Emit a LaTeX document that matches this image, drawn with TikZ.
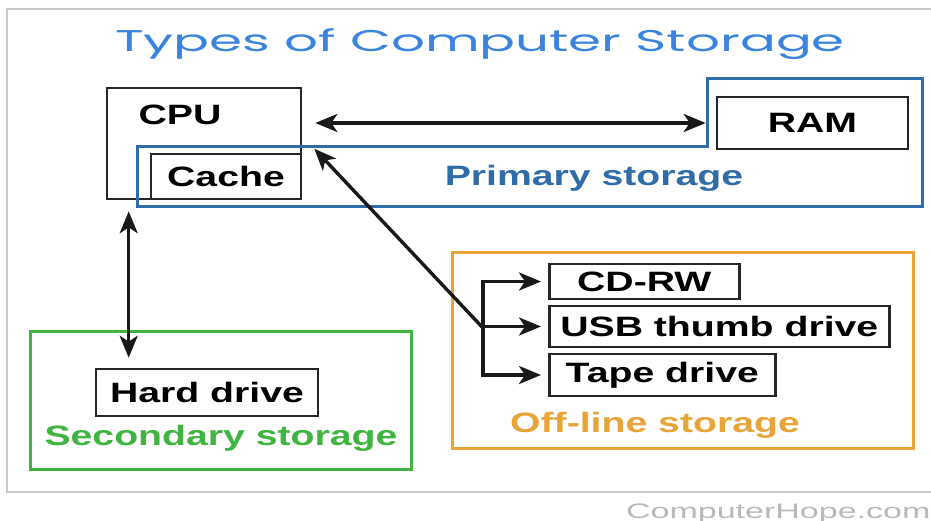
\documentclass[tikz,border=0pt]{standalone}
\usepackage{fontspec}
\setmainfont[FakeStretch=1.4]{Liberation Sans}
\newfontfamily\titlefont[FakeStretch=1.77]{Poppins}
\newfontfamily\markfont[FakeStretch=1.62]{Liberation Sans}
\usetikzlibrary{arrows.meta}
\definecolor{titleblue}{RGB}{58,132,222}
\definecolor{primblue}{RGB}{48,108,168}
\definecolor{secgreen}{RGB}{64,180,64}
\definecolor{offorange}{RGB}{232,164,56}
\definecolor{framegray}{RGB}{200,200,200}
\definecolor{markgray}{RGB}{185,185,185}
\tikzset{
	>={Stealth[length=22pt,width=18pt,inset=6pt]},
	box/.style={draw=black!85, line width=2.6pt, inner sep=0pt, font=\fontsize{28}{30}\selectfont\bfseries},
	area/.style={line width=3pt},
	lbl/.style={inner sep=0pt, font=\fontsize{28}{30}\selectfont\bfseries},
	link/.style={line width=3.4pt, black!90},
}
\begin{document}
\begin{tikzpicture}[x=1pt, y=-1pt]
	\useasboundingbox (0,0) rectangle (931,521);
	% 1. Khung ngoài
	\draw[framegray, line width=1.5pt] (931,9) -- (7,9) -- (7,492) -- (931,492);
	% 2. Tiêu đề
	\node[titleblue, font=\titlefont\fontsize{30}{32}\selectfont] (title) at (480,44) {Types of Computer Storage};
	
	% 3. CPU và Cache
	\node[box, minimum width=194pt, minimum height=111pt] (cpu) at (204,143.5) {};
	\node[lbl] (cputxt) at (180,115) {CPU};
	\node[box, minimum width=150pt, minimum height=45pt] (cache) at (226,176.5) {Cache};
	
	% 4. Vùng Primary storage
	\draw[primblue, area] (137,147) -- (707,147) -- (707,79) -- (922,79) -- (922,207) -- (137,207) -- cycle;
	\node[box, minimum width=191pt, minimum height=52pt] (ram) at (812.5,123) {RAM};
	\node[lbl, primblue] (primtxt) at (594,178) {Primary storage};
	
	% 5. Vùng Secondary storage
	\draw[secgreen, area] (30,331) rectangle (411,469);
	\node[box, minimum width=222pt, minimum height=47pt] (hdd) at (207,392.5) {Hard drive};
	\node[lbl, secgreen] (sectxt) at (221,438) {Secondary storage};
	
	% 6. Vùng Off-line storage
	\draw[offorange, area] (452,253) rectangle (913,448);
	\foreach \n/\y/\w/\h/\t in {cd/281.5/190/35/CD-RW, usb/326.5/340/41/USB thumb drive, tape/375/226/42/Tape drive} {
		\node[box, anchor=west, minimum width=\w pt, minimum height=\h pt] (\n) at (548,\y) {\t};
	}
	\node[lbl, offorange] (offtxt) at (655,425) {Off-line storage};
	
	% 7. Các mũi tên
	\draw[link, <->, shorten <=13pt, shorten >=10pt] (cpu.east |- ram.west) -- (ram.west);
	\draw[link, <->, shorten <=11pt, shorten >=10pt] ([xshift=23pt]cpu.south west) -- ([xshift=23pt]cpu.south west |- hdd.north);
	\coordinate (split) at (483,328);
	\draw[link, ->] (split) -- ([xshift=12pt,yshift=4pt]cache.north east);
	\draw[link, line cap=rect] (split |- cd.west) -- (split |- tape.west);
	\foreach \n in {cd,usb,tape} {
		\draw[link, ->, shorten >=7pt] (split |- \n.west) -- (\n.west);
	}
	
	% 8. Chữ ký
	\node[markgray, font=\markfont\fontsize{21}{23}\selectfont, anchor=base east] (mark) at (934,518) {ComputerHope.com};
\end{tikzpicture}
\end{document}
